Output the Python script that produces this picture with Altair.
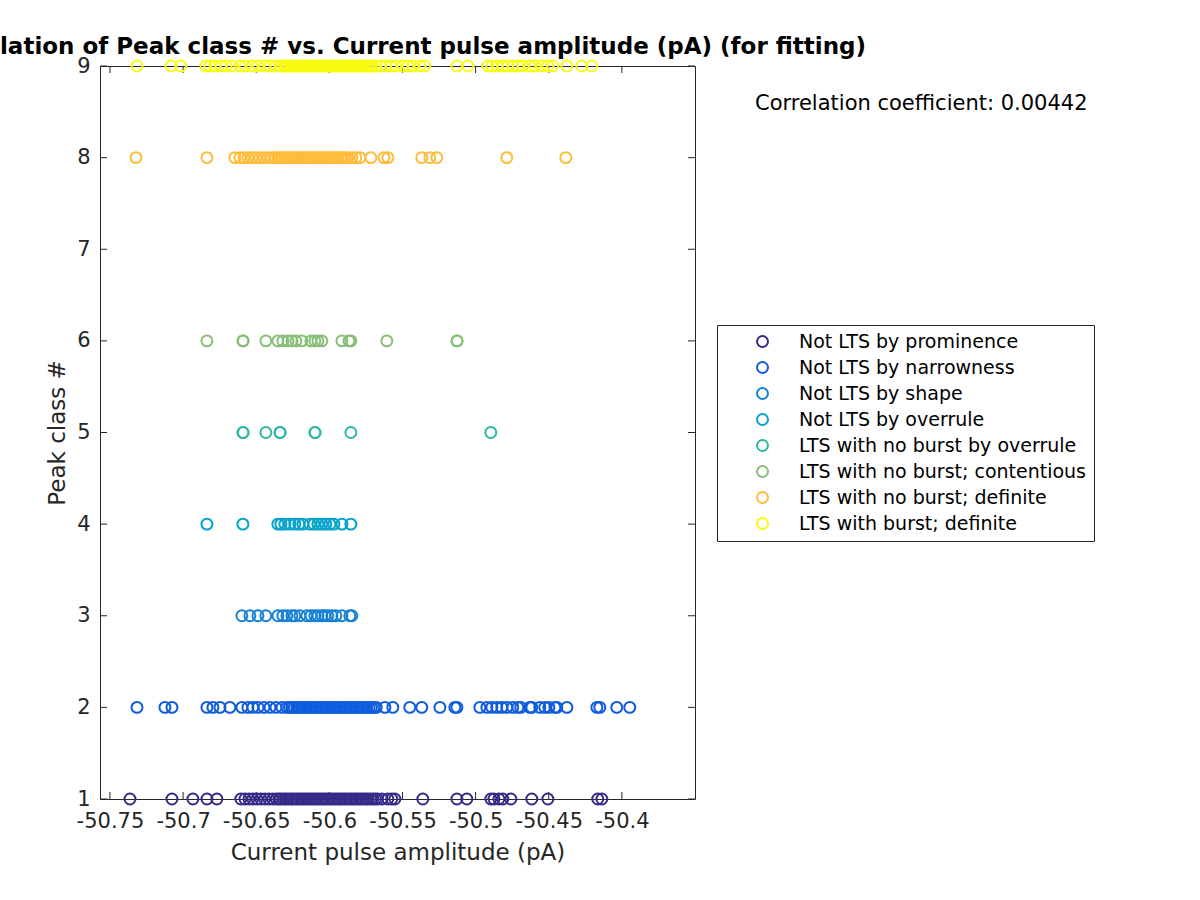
import altair as alt
import pandas as pd

# ---------------- data ----------------
labels = [
    "Not LTS by prominence",
    "Not LTS by narrowness",
    "Not LTS by shape",
    "Not LTS by overrule",
    "LTS with no burst by overrule",
    "LTS with no burst; contentious",
    "LTS with no burst; definite",
    "LTS with burst; definite",
]
class_numbers = [1, 2, 3, 4, 5, 6, 8, 9]
colors = ["#352a87", "#0f5cdd", "#1481d6", "#06a4ca", "#2eb7a4", "#87bf77", "#fdbc3a", "#f9fb0e"]

amp_class1 = [
    -50.7363, -50.7076, -50.6933, -50.6837, -50.6769, -50.6605, -50.6577, -50.6550, -50.6523,
    -50.6495, -50.6468, -50.6441, -50.6413, -50.6386,
    -50.6362, -50.6345, -50.6331, -50.6312, -50.6298, -50.6281, -50.6263, -50.6249, -50.6230,
    -50.6214, -50.6197, -50.6182, -50.6165, -50.6148, -50.6131, -50.6116, -50.6099, -50.6083,
    -50.6066, -50.6049, -50.6033, -50.6017, -50.5999, -50.5984, -50.5967, -50.5951, -50.5934,
    -50.5918, -50.5901, -50.5885, -50.5868, -50.5852, -50.5835, -50.5819, -50.5802, -50.5786,
    -50.5769, -50.5752, -50.5736, -50.5719, -50.5703, -50.5686, -50.5670,
    -50.5641, -50.5600, -50.5573, -50.5552, -50.5361, -50.5128, -50.5060, -50.4896, -50.4875,
    -50.4841, -50.4814, -50.4759, -50.4616, -50.4506, -50.4165, -50.4137,
]
amp_class2 = [
    -50.7315, -50.7124, -50.7076, -50.6837, -50.6796, -50.6748, -50.6680, -50.6598, -50.6557,
    -50.6523, -50.6488, -50.6447, -50.6406, -50.6365, -50.6324,
    -50.6290, -50.6273, -50.6257, -50.6240, -50.6222, -50.6207, -50.6190, -50.6174, -50.6157,
    -50.6141, -50.6124, -50.6108, -50.6091, -50.6075, -50.6058, -50.6042, -50.6025, -50.6009,
    -50.5992, -50.5976, -50.5959, -50.5943, -50.5926, -50.5910, -50.5893, -50.5877, -50.5860,
    -50.5844, -50.5827, -50.5811, -50.5794, -50.5778, -50.5761, -50.5745, -50.5728, -50.5712,
    -50.5695, -50.5679,
    -50.5620, -50.5566, -50.5450, -50.5368, -50.5244, -50.5142, -50.5128, -50.4971, -50.4923,
    -50.4889, -50.4855, -50.4821, -50.4787, -50.4746, -50.4711, -50.4691, -50.4629, -50.4616,
    -50.4561, -50.4527, -50.4499, -50.4458, -50.4445, -50.4376, -50.4171, -50.4151, -50.4035,
    -50.3946,
]
amp_class3 = [
    -50.6598, -50.6543, -50.6488, -50.6434, -50.6352, -50.6318, -50.6290, -50.6256, -50.6236,
    -50.6201, -50.6154, -50.6126, -50.6099, -50.6078, -50.6051, -50.6031, -50.6010, -50.5983,
    -50.5955, -50.5914, -50.5860, -50.5846,
]
amp_class4 = [
    -50.6837, -50.6591, -50.6352, -50.6331, -50.6304, -50.6270, -50.6236, -50.6208, -50.6181,
    -50.6133, -50.6106, -50.6078, -50.6051, -50.6024, -50.5996, -50.5969, -50.5914, -50.5853,
]
amp_class5 = [
    -50.6591, -50.6589, -50.6434, -50.6338, -50.6336, -50.6099, -50.6097, -50.5853, -50.4896,
]
amp_class6 = [
    -50.6837, -50.6591, -50.6589, -50.6434, -50.6352, -50.6318, -50.6283, -50.6256, -50.6229,
    -50.6188, -50.6126, -50.6099, -50.6078, -50.6051, -50.5914, -50.5866, -50.5853, -50.5607,
    -50.5128, -50.5126,
]
amp_class8 = [
    -50.7322, -50.6837, -50.6646, -50.6611, -50.6584, -50.6557, -50.6529, -50.6502, -50.6475,
    -50.6447, -50.6420, -50.6393,
    -50.6370, -50.6353, -50.6337, -50.6320, -50.6304, -50.6287, -50.6271, -50.6254, -50.6238,
    -50.6221, -50.6205, -50.6188, -50.6172, -50.6155, -50.6139, -50.6122, -50.6106, -50.6089,
    -50.6073, -50.6056, -50.6040, -50.6023, -50.6007, -50.5990, -50.5974, -50.5957, -50.5941,
    -50.5924, -50.5908, -50.5891, -50.5875,
    -50.5846, -50.5819, -50.5791, -50.5716, -50.5627, -50.5600, -50.5368, -50.5313, -50.5265,
    -50.4787, -50.4383,
]
amp_class9 = [
    -50.7315, -50.7083, -50.7015, -50.6844, -50.6817, -50.6782, -50.6741, -50.6707, -50.6666,
    -50.6611, -50.6577, -50.6529, -50.6488, -50.6441, -50.6406, -50.6365, -50.6338,
    -50.6318, -50.6301, -50.6285, -50.6268, -50.6252, -50.6235, -50.6219, -50.6202, -50.6186,
    -50.6169, -50.6153, -50.6136, -50.6120, -50.6103, -50.6087, -50.6070, -50.6054, -50.6037,
    -50.6021, -50.6004, -50.5988, -50.5971, -50.5955, -50.5938, -50.5922, -50.5905, -50.5889,
    -50.5872, -50.5856, -50.5839, -50.5823, -50.5806, -50.5790, -50.5773, -50.5757, -50.5740,
    -50.5724, -50.5707,
    -50.5682, -50.5648, -50.5614, -50.5579, -50.5545, -50.5497, -50.5463, -50.5429, -50.5381,
    -50.5347, -50.5128, -50.5053, -50.4916, -50.4889, -50.4855, -50.4814, -50.4780, -50.4746,
    -50.4711, -50.4677, -50.4629, -50.4595, -50.4547, -50.4506, -50.4472, -50.4376, -50.4274,
    -50.4206,
]
amp_lists = [amp_class1, amp_class2, amp_class3, amp_class4, amp_class5, amp_class6,
             amp_class8, amp_class9]

x_ticks = [-50.75, -50.7, -50.65, -50.6, -50.55, -50.5, -50.45, -50.4]
y_ticks = [1, 2, 3, 4, 5, 6, 7, 8, 9]
x_domain = [-50.7568, -50.35]
y_domain = [1, 9]

title_text = "Correlation of Peak class # vs. Current pulse amplitude (pA) (for fitting)"
corr_text = "Correlation coefficient: 0.00442"

# ---------------- build table ----------------
rows = []
for cls, lab, arr in zip(class_numbers, labels, amp_lists):
    for v in arr:
        rows.append({"amp": v, "cls": cls, "label": lab})
df = pd.DataFrame(rows)

W, H = 595, 733
AX = "#262626"
FONT = "DejaVu Sans"

xs = alt.Scale(domain=x_domain, nice=False, zero=False)
ys = alt.Scale(domain=y_domain, nice=False, zero=False)

x_axis = alt.Axis(
    values=x_ticks, labelExpr="'' + datum.value", title="Current pulse amplitude (pA)",
    ticks=False, tickSize=0, domain=False, grid=False, labelFontSize=21, labelFont=FONT,
    labelColor=AX, labelPadding=11, titleFontSize=23, titleFont=FONT, titleColor=AX,
    titleFontWeight="normal", titlePadding=10, labelFlush=False, labelOverlap=False)
y_axis = alt.Axis(
    values=y_ticks, format="d", title="Peak class #",
    ticks=False, tickSize=0, domain=False, grid=False, labelFontSize=21, labelFont=FONT,
    labelColor=AX, labelPadding=10, titleFontSize=23, titleFont=FONT, titleColor=AX,
    titleFontWeight="normal", titlePadding=7, labelFlush=False, labelOverlap=False)

points = alt.Chart(df).mark_point(
    filled=False, size=120, strokeWidth=2, opacity=1, shape="circle", clip=False
).encode(
    x=alt.X("amp:Q", scale=xs, axis=x_axis),
    y=alt.Y("cls:Q", scale=ys, axis=y_axis),
    color=alt.Color("label:N", sort=labels, scale=alt.Scale(domain=labels, range=colors),
                    legend=alt.Legend(
                        title=None, orient="none", legendX=617, legendY=259,
                        labelFontSize=19, labelFont=FONT, labelColor="black",
                        symbolSize=120, symbolStrokeWidth=2, symbolType="circle",
                        strokeColor=AX, fillColor="white", padding=7, rowPadding=6,
                        symbolOffset=29, labelOffset=27, labelLimit=400)),
    order=alt.Order("cls:Q"),
)

xt = pd.DataFrame({"v": x_ticks})
yt = pd.DataFrame({"v": y_ticks})
TL = 7

bottom_ticks = alt.Chart(xt).mark_rule(color=AX, strokeWidth=1).encode(
    x=alt.X("v:Q", scale=xs, axis=x_axis), y=alt.value(H), y2=alt.value(H - TL))
top_ticks = alt.Chart(xt).mark_rule(color=AX, strokeWidth=1).encode(
    x=alt.X("v:Q", scale=xs, axis=x_axis), y=alt.value(0), y2=alt.value(TL))
left_ticks = alt.Chart(yt).mark_rule(color=AX, strokeWidth=1).encode(
    y=alt.Y("v:Q", scale=ys, axis=y_axis), x=alt.value(0), x2=alt.value(TL))
right_ticks = alt.Chart(yt).mark_rule(color=AX, strokeWidth=1).encode(
    y=alt.Y("v:Q", scale=ys, axis=y_axis), x=alt.value(W), x2=alt.value(W - TL))

corr = alt.Chart(pd.DataFrame({"t": [corr_text]})).mark_text(
    align="left", baseline="middle", fontSize=21, font=FONT, color="black"
).encode(x=alt.value(655), y=alt.value(38), text="t:N")

chart = alt.layer(
    bottom_ticks, top_ticks, left_ticks, right_ticks, points, corr
).properties(
    width=W, height=H, background="white",
    title=alt.TitleParams(title_text, fontSize=23, font=FONT, fontWeight="bold",
                          color="black", anchor="middle", frame="group",
                          baseline="alphabetic", offset=-22),
    autosize=alt.AutoSizeParams(type="none"),
    padding={"left": 100, "top": 66, "right": 505, "bottom": 101},
).configure_view(
    stroke=AX, strokeWidth=1
)

chart.save("out.html", embed_options={"renderer": "svg", "actions": False})
